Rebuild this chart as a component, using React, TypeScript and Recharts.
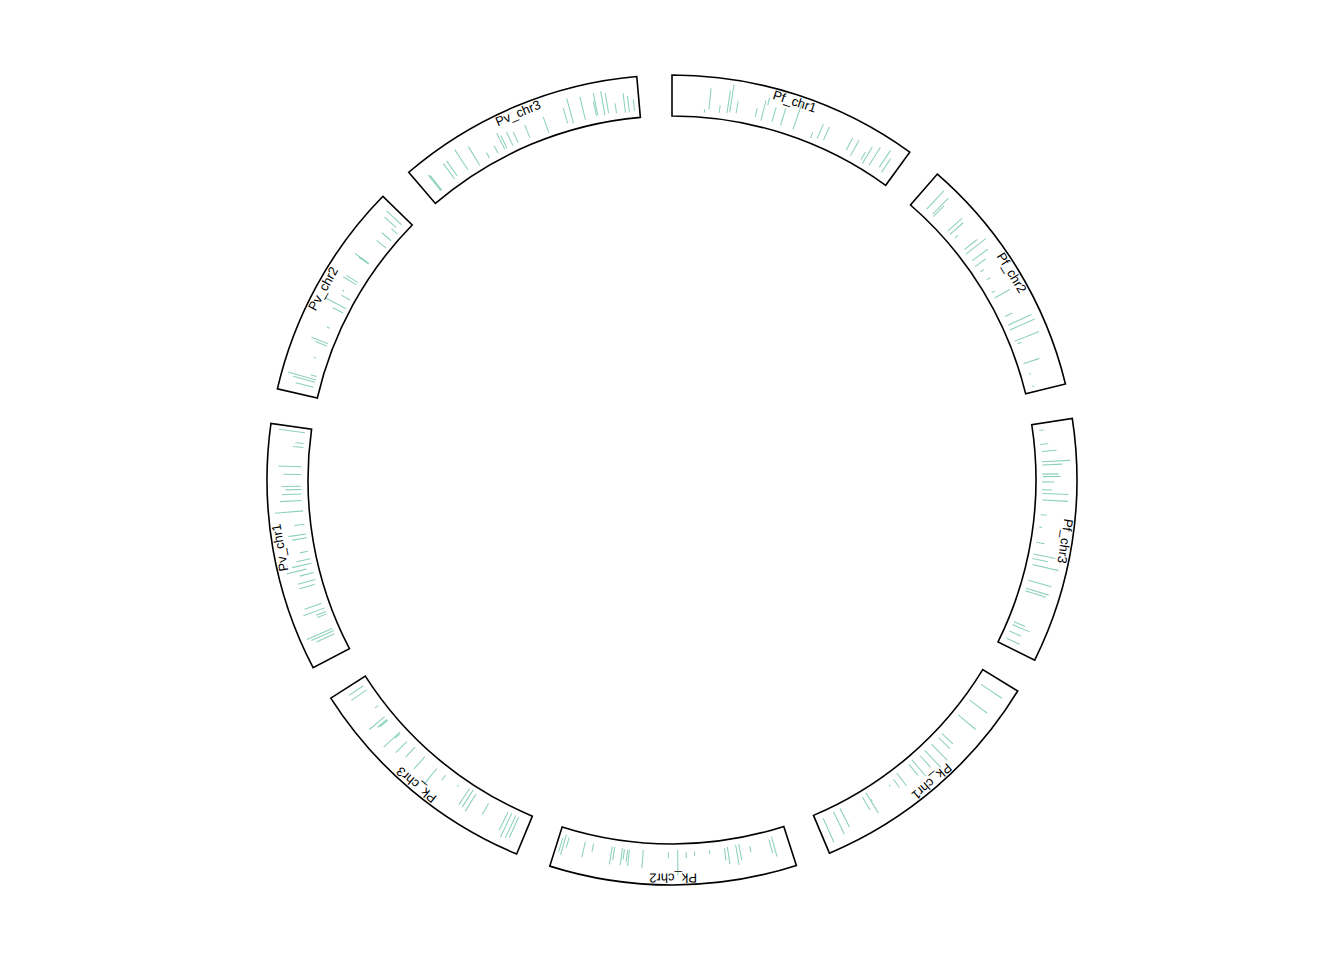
import { Cell, Pie, PieChart } from "recharts";

const chromosomes = ["Pf_chr1", "Pf_chr2", "Pf_chr3", "Pk_chr1", "Pk_chr2", "Pk_chr3", "Pv_chr1", "Pv_chr2", "Pv_chr3"];
const chromLengthsKb = [1016, 999, 993, 1010, 1002, 985, 1007, 889, 1005];

// [position in kb, low, high]; low/high are fractions of the track height
const pfChr1Ticks = [
  [142, 0.12, 0.2], [161, 0.2, 0.72], [207, 0.15, 0.34], [241, 0.17, 0.73], [252, 0.2, 0.88],
  [280, 0.2, 0.5], [365, 0.2, 0.43], [393, 0.15, 0.66], [405, 0.56, 0.75], [441, 0.2, 0.56],
  [481, 0.17, 0.6], [538, 0.17, 0.83], [623, 0.12, 0.27], [651, 0.17, 0.56], [679, 0.2, 0.55],
  [787, 0.22, 0.56], [815, 0.15, 0.58], [863, 0.2, 0.4], [877, 0.12, 0.6], [906, 0.17, 0.7],
  [948, 0.27, 0.76], [968, 0.2, 0.6],
];
const pfChr2Ticks = [
  [65, 0.19, 0.8], [99, 0.2, 0.75], [108, 0.17, 0.54], [198, 0.18, 0.65], [215, 0.16, 0.6],
  [241, 0.2, 0.3], [306, 0.2, 0.6], [325, 0.16, 0.78], [365, 0.19, 0.66], [393, 0.16, 0.48],
  [425, 0.2, 0.3], [470, 0.22, 0.32], [529, 0.16, 0.25], [555, 0.16, 0.58], [648, 0.17, 0.37],
  [688, 0.15, 0.77], [710, 0.14, 0.8], [764, 0.14, 0.78], [778, 0.18, 0.28], [869, 0.15, 0.56],
  [920, 0.2, 0.25], [976, 0.2, 0.25],
];
const pfChr3Ticks = [
  [30, 0.16, 0.27], [91, 0.14, 0.34], [122, 0.17, 0.53], [167, 0.15, 0.84], [181, 0.16, 0.65],
  [221, 0.15, 0.55], [232, 0.17, 0.6], [255, 0.15, 0.45], [289, 0.15, 0.4], [306, 0.17, 0.8],
  [334, 0.17, 0.8], [399, 0.15, 0.3], [453, 0.15, 0.22], [521, 0.14, 0.34], [574, 0.12, 0.67],
  [594, 0.12, 0.5], [620, 0.15, 0.8], [691, 0.15, 0.73], [727, 0.15, 0.73], [739, 0.15, 0.68],
  [883, 0.15, 0.45], [897, 0.14, 0.6], [928, 0.14, 0.45], [962, 0.15, 0.5],
];
const pkChr1Ticks = [
  [59, 0.16, 0.77], [144, 0.15, 0.68], [226, 0.15, 0.71], [334, 0.15, 0.52], [357, 0.17, 0.55],
  [399, 0.15, 0.7], [439, 0.15, 0.72], [470, 0.17, 0.55], [509, 0.11, 0.63], [532, 0.15, 0.5],
  [597, 0.13, 0.52], [625, 0.2, 0.45], [654, 0.25, 0.3], [753, 0.3, 0.35], [758, 0.1, 0.68],
  [781, 0.15, 0.5], [891, 0.12, 0.63], [923, 0.12, 0.73], [976, 0.16, 0.8],
];
const pkChr2Ticks = [
  [65, 0.15, 0.65], [79, 0.2, 0.55], [167, 0.25, 0.4], [212, 0.15, 0.55], [226, 0.15, 0.65],
  [263, 0.17, 0.6], [277, 0.2, 0.5], [342, 0.2, 0.3], [408, 0.2, 0.3], [444, 0.2, 0.35],
  [481, 0.15, 0.77], [521, 0.2, 0.35], [631, 0.17, 0.62], [691, 0.2, 0.6], [699, 0.2, 0.5],
  [713, 0.2, 0.45], [722, 0.18, 0.6], [756, 0.18, 0.5], [767, 0.18, 0.62], [849, 0.2, 0.4],
  [886, 0.19, 0.58], [959, 0.2, 0.45], [974, 0.15, 0.66], [985, 0.25, 0.6],
];
const pkChr3Ticks = [
  [54, 0.16, 0.7], [68, 0.15, 0.75], [88, 0.14, 0.78], [105, 0.15, 0.65], [198, 0.19, 0.5],
  [266, 0.15, 0.65], [286, 0.1, 0.6], [303, 0.12, 0.6], [351, 0.2, 0.25], [422, 0.2, 0.35],
  [470, 0.2, 0.7], [543, 0.17, 0.57], [603, 0.16, 0.5], [645, 0.21, 0.59], [691, 0.2, 0.35],
  [696, 0.16, 0.71], [770, 0.2, 0.45], [775, 0.2, 0.5], [790, 0.2, 0.69], [846, 0.15, 0.25],
  [931, 0.16, 0.61], [954, 0.17, 0.59],
];
const pvChr1Ticks = [
  [88, 0.17, 0.65], [102, 0.15, 0.75], [113, 0.17, 0.84], [181, 0.15, 0.4], [192, 0.15, 0.4],
  [209, 0.15, 0.7], [232, 0.18, 0.62], [320, 0.2, 0.6], [340, 0.15, 0.6], [371, 0.15, 0.5],
  [393, 0.3, 0.8], [413, 0.15, 0.63], [433, 0.15, 0.5], [467, 0.17, 0.37], [526, 0.14, 0.5],
  [543, 0.14, 0.58], [586, 0.15, 0.4], [645, 0.15, 0.84], [691, 0.17, 0.7], [719, 0.17, 0.65],
  [739, 0.16, 0.55], [753, 0.17, 0.65], [804, 0.16, 0.6], [838, 0.16, 0.73], [923, 0.15, 0.4],
  [940, 0.15, 0.35], [988, 0.15, 0.79],
];
const pvChr2Ticks = [
  [42, 0.15, 0.6], [65, 0.15, 0.7], [76, 0.14, 0.85], [91, 0.15, 0.3], [167, 0.3, 0.36],
  [232, 0.15, 0.45], [243, 0.15, 0.58], [308, 0.25, 0.33], [393, 0.12, 0.4], [416, 0.1, 0.69],
  [458, 0.12, 0.36], [478, 0.35, 0.4], [529, 0.17, 0.55], [541, 0.17, 0.5], [634, 0.2, 0.5],
  [637, 0.21, 0.63], [736, 0.1, 0.4], [775, 0.12, 0.42], [815, 0.11, 0.31], [832, 0.24, 0.62],
  [857, 0.19, 0.69],
];
const pvChr3Ticks = [
  [54, 0.15, 0.64], [59, 0.15, 0.6], [133, 0.18, 0.65], [150, 0.2, 0.65], [204, 0.18, 0.76],
  [258, 0.11, 0.65], [311, 0.15, 0.3], [354, 0.15, 0.35], [388, 0.16, 0.6], [399, 0.16, 0.5],
  [427, 0.16, 0.52], [453, 0.16, 0.45], [509, 0.17, 0.5], [594, 0.11, 0.52], [685, 0.19, 0.57],
  [710, 0.15, 0.78], [764, 0.16, 0.74], [815, 0.2, 0.55], [821, 0.2, 0.75], [852, 0.17, 0.76],
  [869, 0.2, 0.7], [903, 0.17, 0.41], [942, 0.15, 0.63], [959, 0.15, 0.55], [982, 0.17, 0.45],
];

const tickSets = [pfChr1Ticks, pfChr2Ticks, pfChr3Ticks, pkChr1Ticks, pkChr2Ticks, pkChr3Ticks, pvChr1Ticks, pvChr2Ticks, pvChr3Ticks];

const GAP_KB = 141; // ~5 degrees between chromosomes
const TICK_KB = 4.5;
const R_IN = 364;
const R_OUT = 405;
const TRACK = R_OUT - R_IN;
const LABEL_R = 398;
const TEAL = "#66c2a5";
const RAD = Math.PI / 180;

// chromosomes interleaved with invisible gaps, going clockwise from 12 o'clock
const segments: { name: string; value: number; gap: boolean }[] = [];
const starts: number[] = [];
let acc = 0;
chromosomes.forEach((name, i) => {
  starts.push(acc);
  segments.push({ name, value: chromLengthsKb[i], gap: false });
  segments.push({ name: "gap" + i, value: GAP_KB, gap: true });
  acc += chromLengthsKb[i] + GAP_KB;
});
const TOTAL = acc;

const ticks = tickSets.flatMap((set, i) =>
  set.map(([pos, lo, hi]) => ({ start: starts[i] + pos, lo, hi }))
);

function renderLabel(props: any) {
  const isGap = props.gap ?? props.payload?.gap;
  if (isGap) return <g />;
  const { cx, cy, midAngle } = props;
  const x = cx + LABEL_R * Math.cos(-midAngle * RAD);
  const y = cy + LABEL_R * Math.sin(-midAngle * RAD);
  const rot = 90 - midAngle;
  return (
    <text
      x={x}
      y={y}
      transform={`rotate(${rot} ${x} ${y})`}
      textAnchor="middle"
      dominantBaseline="central"
      fontSize={13}
      fontFamily="'Liberation Sans', Arial, sans-serif"
      fill="#000"
    >
      {props.name}
    </text>
  );
}

export default function App() {
  return (
    <div style={{ position: "absolute", left: 0, top: 0, background: "#fff" }}>
      <PieChart width={1344} height={960} margin={{ top: 0, right: 0, bottom: 0, left: 0 }}>
        <Pie
          data={segments}
          dataKey="value"
          nameKey="name"
          cx={672}
          cy={480}
          startAngle={90}
          endAngle={-270}
          innerRadius={R_IN}
          outerRadius={R_OUT}
          isAnimationActive={false}
        >
          {segments.map((s, i) => (
            <Cell key={i} fill={s.gap ? "none" : "#fff"} stroke={s.gap ? "none" : "#000"} strokeWidth={1.6} />
          ))}
        </Pie>
        {ticks.map((t, i) => (
          <Pie
            key={"t" + i}
            data={[
              { value: t.start - TICK_KB / 2 },
              { value: TICK_KB },
              { value: TOTAL - t.start - TICK_KB / 2 },
            ]}
            dataKey="value"
            cx={672}
            cy={480}
            startAngle={90}
            endAngle={-270}
            innerRadius={R_IN + t.lo * TRACK}
            outerRadius={R_IN + t.hi * TRACK}
            stroke="none"
            isAnimationActive={false}
          >
            <Cell fill="none" />
            <Cell fill={TEAL} fillOpacity={0.75} />
            <Cell fill="none" />
          </Pie>
        ))}
        <Pie
          data={segments}
          dataKey="value"
          nameKey="name"
          cx={672}
          cy={480}
          startAngle={90}
          endAngle={-270}
          innerRadius={R_IN}
          outerRadius={R_OUT}
          fill="none"
          stroke="none"
          label={renderLabel}
          labelLine={false}
          isAnimationActive={false}
        />
      </PieChart>
    </div>
  );
}
